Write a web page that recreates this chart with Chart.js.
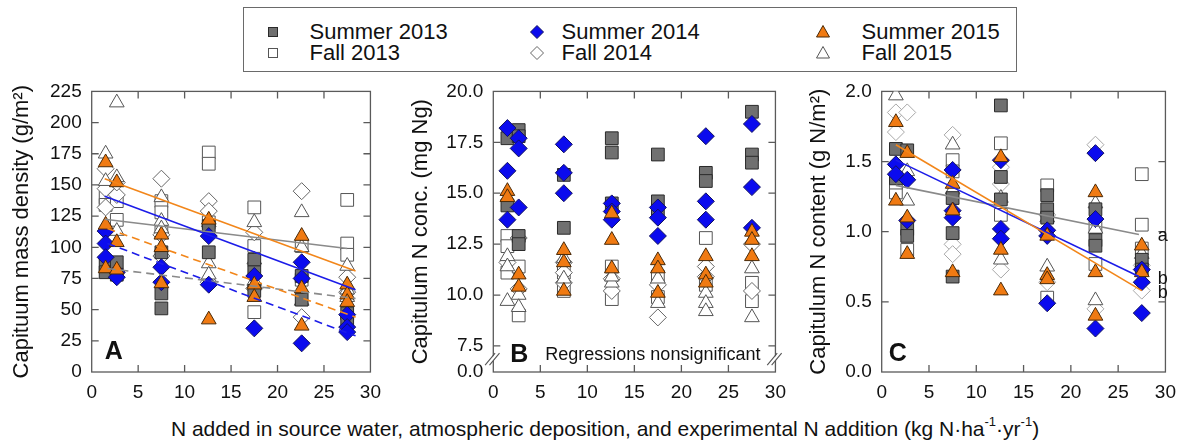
<!DOCTYPE html>
<html><head><meta charset="utf-8">
<script src="https://cdn.jsdelivr.net/npm/chart.js@4.4.1/dist/chart.umd.min.js"></script>
<style>
html,body{margin:0;padding:0;background:#fff;width:1185px;height:443px;overflow:hidden;font-family:"Liberation Sans",Arial,sans-serif;color:#111;}
canvas.cv{position:absolute;}
#legend{position:absolute;left:243px;top:7px;width:772px;height:63px;border:1.5px solid #6a6a6a;}
.lt{position:absolute;font-size:22px;line-height:22px;white-space:nowrap;color:#111;}
.ls{position:absolute;}
#xtitle{position:absolute;left:105px;width:1000px;top:417px;text-align:center;font-size:21px;white-space:nowrap;}
#xtitle sup{font-size:13px;vertical-align:top;position:relative;top:-3px;}
</style></head><body>
<div id="legend"></div>
<div id="xtitle">N added in source water, atmospheric deposition, and experimental N addition (kg N·ha<sup>-1</sup>·yr<sup>-1</sup>)</div>
<script>
// ---------- shared ----------
const xTicks = [0, 5, 10, 15, 20, 25, 30];
const seriesKeys = ['S13', 'F13', 'S14', 'F14', 'S15', 'F15'];
const seriesLabels = ['Summer 2013', 'Fall 2013', 'Summer 2014', 'Fall 2014', 'Summer 2015', 'Fall 2015'];

// ---------- Panel A: capitulum mass density (g/m2), [x, y] ----------
const massTicks = [0, 25, 50, 75, 100, 125, 150, 175, 200, 225];
const massS13 = [[1.5,86],[1.5,80],[2.7,88],[2.7,78],[7.5,96],[7.5,63],[7.5,51],[12.6,117],[12.6,96],[17.5,90],[17.5,80],[17.5,65],[22.6,58],[22.6,77],[27.5,47],[27.5,40]];
const massF13 = [[1.5,140],[1.5,134],[2.7,137],[2.7,122],[7.5,137],[7.5,128],[7.5,112],[12.6,176],[12.6,167],[12.6,120],[17.5,132],[17.5,101],[17.5,48],[22.6,101],[22.6,74],[27.5,138],[27.5,103],[27.5,94]];
const massS14 = [[1.5,113],[1.5,103],[1.5,92],[2.7,80],[2.7,76],[7.5,84],[7.5,72],[12.6,109],[12.6,70],[17.5,77],[17.5,35],[22.6,88],[22.6,75],[22.6,23],[27.5,46],[27.5,36],[27.5,32]];
const massF14 = [[1.5,163],[1.5,147],[1.5,132],[2.7,142],[2.7,152],[7.5,155],[7.5,110],[7.5,93],[12.6,137],[12.6,129],[12.6,72],[17.5,112],[17.5,67],[22.6,145],[22.6,44],[27.5,76],[27.5,64]];
const massS15 = [[1.5,168],[1.5,118],[1.5,83],[2.7,152],[2.7,104],[2.7,82],[7.5,110],[7.5,100],[7.5,71],[12.6,122],[12.6,42],[17.5,70],[17.5,60],[22.6,109],[22.6,67],[22.6,37],[27.5,70],[27.5,62],[27.5,56]];
const massF15 = [[2.7,216],[1.5,175],[1.5,153],[2.7,156],[2.7,113],[7.5,140],[7.5,121],[7.5,115],[12.6,120],[12.6,87],[12.6,78],[17.5,120],[17.5,90],[17.5,73],[22.6,128],[22.6,100],[22.6,57],[27.5,85],[27.5,66],[27.5,60]];
// regressions (fall = solid, summer = dashed)
const massRegF13 = [[1.4,122.5],[27.5,99]];
const massRegF14 = [[1.4,141],[28.4,66]];
const massRegF15 = [[1.4,155],[28.4,81]];
const massRegS13 = [[1.7,83],[28.4,59]];
const massRegS14 = [[1.7,103],[28.4,29]];
const massRegS15 = [[1.7,115],[28.4,44]];

// ---------- Panel B: capitulum N concentration (mg Ng) ----------
const concTicks = [6.22, 7.5, 10, 12.5, 15, 17.5, 20];
const concBreak = 6.85;
const concS13 = [[1.5,17.7],[2.7,18.1],[2.7,17.8],[1.5,14.4],[2.7,12.9],[2.7,12.5],[7.5,15.9],[7.5,13.3],[12.6,17.7],[12.6,17.0],[12.6,14.5],[17.5,16.9],[17.5,14.6],[17.5,14.1],[22.6,16.0],[22.6,15.6],[27.5,19.0],[27.5,16.9],[27.5,16.5]];
const concF13 = [[1.5,12.9],[1.5,12.4],[1.5,11.1],[2.7,11.4],[2.7,9.0],[7.5,11.1],[7.5,10.2],[12.6,11.4],[12.6,9.8],[17.5,10.9],[17.5,9.9],[22.6,12.8],[22.6,10.5],[27.5,10.6],[27.5,9.7]];
const concS14 = [[1.5,18.2],[2.7,17.7],[2.7,17.2],[1.5,16.1],[2.7,14.3],[1.5,13.7],[7.5,17.4],[7.5,16.0],[7.5,15.0],[12.6,14.5],[12.6,14.1],[12.6,13.7],[17.5,14.3],[17.5,13.8],[17.5,12.9],[22.6,17.8],[22.6,14.6],[22.6,13.7],[27.5,18.4],[27.5,15.3],[27.5,13.3]];
const concF14 = [[2.7,12.8],[1.5,11.6],[2.7,10.3],[7.5,11.6],[7.5,11.1],[7.5,10.6],[12.6,10.8],[12.6,10.2],[17.5,8.9],[17.5,10.5],[22.6,11.4],[22.6,10.9],[27.5,12.5],[27.5,10.2]];
const concS15 = [[1.5,15.1],[1.5,14.8],[2.7,11.0],[2.7,10.4],[7.5,12.2],[7.5,11.6],[7.5,10.2],[12.6,14.0],[12.6,12.7],[12.6,11.3],[17.5,11.7],[17.5,11.3],[17.5,10.1],[22.6,11.9],[22.6,11.0],[22.6,10.6],[27.5,13.1],[27.5,12.7],[27.5,11.9]];
const concF15 = [[1.5,11.9],[1.5,11.4],[1.5,9.7],[2.7,10.0],[2.7,9.4],[7.5,11.8],[7.5,10.8],[12.6,10.6],[12.6,10.9],[17.5,10.8],[17.5,9.6],[22.6,10.1],[22.6,9.6],[22.6,9.2],[27.5,11.3],[27.5,8.9]];

// ---------- Panel C: capitulum N content (g N/m2) ----------
const contTicks = [0, 0.5, 1.0, 1.5, 2.0];
const contS13 = [[1.5,1.59],[2.7,1.58],[1.5,1.38],[2.7,1.02],[2.7,0.97],[7.5,1.24],[7.5,0.99],[7.5,0.68],[12.6,1.90],[12.6,1.39],[12.6,1.23],[17.5,1.26],[17.5,1.16],[17.5,1.10],[22.6,1.16],[22.6,0.94],[22.6,0.90],[27.5,0.80],[27.5,0.73]];
const contF13 = [[1.5,1.28],[1.5,1.35],[2.7,0.87],[7.5,1.51],[7.5,1.43],[12.6,1.63],[12.6,1.12],[17.5,1.33],[17.5,0.53],[22.6,0.77],[22.6,1.03],[27.5,1.41],[27.5,1.05],[27.5,0.88]];
const contS14 = [[1.5,1.48],[1.5,1.41],[2.7,1.37],[2.7,1.08],[7.5,1.44],[7.5,1.15],[7.5,1.10],[12.6,1.51],[12.6,1.02],[12.6,0.95],[17.5,1.01],[17.5,0.97],[17.5,0.49],[22.6,1.56],[22.6,1.09],[22.6,0.31],[27.5,0.73],[27.5,0.64],[27.5,0.42]];
const contF14 = [[1.5,1.85],[2.7,1.85],[1.5,1.71],[7.5,1.69],[7.5,0.91],[7.5,0.84],[12.6,1.46],[12.6,1.34],[12.6,0.73],[17.5,0.64],[17.5,1.12],[22.6,1.62],[22.6,0.45],[27.5,0.76],[27.5,0.58]];
const contS15 = [[1.5,1.78],[2.7,1.56],[1.5,1.22],[2.7,1.10],[2.7,0.84],[7.5,1.34],[7.5,1.15],[7.5,0.71],[12.6,1.53],[12.6,0.87],[12.6,0.58],[17.5,0.97],[17.5,0.69],[17.5,0.66],[22.6,1.28],[22.6,0.71],[22.6,0.40],[27.5,0.90],[27.5,0.71]];
const contF15 = [[1.5,1.97],[2.7,1.43],[2.7,1.22],[7.5,1.62],[7.5,1.30],[12.6,1.24],[12.6,0.80],[17.5,1.10],[17.5,0.75],[22.6,1.20],[22.6,1.02],[22.6,0.51],[27.5,0.84],[27.5,0.66]];
const contReg2013 = [[1.5,1.33],[27.2,0.98]];
const contReg2014 = [[1.5,1.51],[27.2,0.68]];
const contReg2015 = [[1.5,1.62],[27.5,0.58]];
const contRegLabels = ['a', 'b', 'b'];

// ---------- styles ----------
const FONT = '"Liberation Sans", Arial, sans-serif';
const seriesStyle = {
  S13: {shape: 'rect', r: 9, fill: '#707070', edge: '#2a2a2a', order: 3},
  F13: {shape: 'rect', r: 9, fill: '#ffffff', edge: '#555555', order: 6},
  S14: {shape: 'rectRot', r: 8.5, fill: '#0b0bee', edge: '#121260', order: 2},
  F14: {shape: 'rectRot', r: 8.5, fill: '#ffffff', edge: '#666666', order: 5},
  S15: {shape: 'triangle', r: 8.5, fill: '#f07a12', edge: '#4a2a08', order: 1},
  F15: {shape: 'triangle', r: 8.5, fill: '#ffffff', edge: '#555555', order: 4}
};
const yearColor = {'2013': '#8a8a8a', '2014': '#1c1ce8', '2015': '#f2861a'};

function pts(arr) { return arr.map(p => ({x: p[0], y: p[1]})); }

function pointSet(key, arr, edgeOverride) {
  const s = seriesStyle[key];
  return {
    label: seriesLabels[seriesKeys.indexOf(key)], data: pts(arr), showLine: false,
    pointStyle: s.shape, pointRadius: s.r, pointHoverRadius: s.r,
    backgroundColor: s.fill, borderColor: edgeOverride || s.edge, pointBorderWidth: 1,
    order: s.order
  };
}
function lineSet(arr, year, dashed) {
  return {
    data: pts(arr), showLine: true, pointRadius: 0, pointHoverRadius: 0,
    borderColor: yearColor[year], borderWidth: 1.6, borderDash: dashed ? [8, 5] : [],
    fill: false, order: 0
  };
}

const framePlugin = {
  id: 'frame',
  beforeDatasetsDraw(chart, args, o) {
    const {ctx, chartArea: a, scales: {x, y}} = chart;
    ctx.save();
    ctx.strokeStyle = '#5a5a5a';
    ctx.lineWidth = 1.3;
    ctx.strokeRect(a.left, a.top, a.right - a.left, a.bottom - a.top);
    const L = 7;
    ctx.beginPath();
    xTicks.forEach(v => {
      if (v <= x.min || v >= x.max) return;
      const px = x.getPixelForValue(v);
      ctx.moveTo(px, a.bottom); ctx.lineTo(px, a.bottom - L);
      ctx.moveTo(px, a.top); ctx.lineTo(px, a.top + L);
    });
    o.yTicks.forEach(v => {
      if (v <= y.min || v >= y.max) return;
      const py = y.getPixelForValue(v);
      ctx.moveTo(a.left, py); ctx.lineTo(a.left + L, py);
      ctx.moveTo(a.right, py); ctx.lineTo(a.right - L, py);
    });
    ctx.stroke();
    ctx.restore();
  },
  afterDatasetsDraw(chart, args, o) {
    const {ctx, chartArea: a, scales: {x, y}} = chart;
    ctx.save();
    ctx.fillStyle = '#111';
    ctx.font = 'bold 25px ' + FONT;
    ctx.textAlign = 'left';
    ctx.textBaseline = 'middle';
    ctx.fillText(o.letter, a.left + o.letterDX, a.bottom - o.letterDY);
    if (o.note) {
      ctx.font = '18px ' + FONT;
      ctx.textAlign = 'right';
      ctx.fillText(o.note, a.right - 15, a.bottom - 17);
    }
    if (o.breakAt !== undefined) {
      const py = y.getPixelForValue(o.breakAt);
      [a.left, a.right].forEach(px => {
        ctx.fillStyle = '#fff';
        ctx.beginPath();
        ctx.moveTo(px - 6 - 2, py + 5); ctx.lineTo(px + 4 - 2, py - 5);
        ctx.lineTo(px + 4 + 2, py - 5); ctx.lineTo(px - 6 + 2, py + 5);
        ctx.closePath(); ctx.fill();
        ctx.strokeStyle = '#555'; ctx.lineWidth = 1.1;
        ctx.beginPath();
        [-2.2, 2.2].forEach(d => { ctx.moveTo(px - 6 + d, py + 6); ctx.lineTo(px + 4 + d, py - 6); });
        ctx.stroke();
      });
    }
    if (o.lineLabels) {
      ctx.fillStyle = '#111';
      ctx.font = '18px ' + FONT;
      ctx.textAlign = 'left';
      ctx.textBaseline = 'middle';
      o.lineLabels.forEach(l => {
        const end = l.line[l.line.length - 1];
        ctx.fillText(l.text, x.getPixelForValue(27.5) + 16, y.getPixelForValue(end[1]) + 2);
      });
    }
    ctx.restore();
  }
};

function makePanel(p) {
  const cv = document.createElement('canvas');
  cv.className = 'cv';
  cv.style.left = p.left + 'px';
  cv.style.top = '70px';
  cv.width = p.width; cv.height = 338;
  cv.style.width = p.width + 'px'; cv.style.height = '338px';
  document.body.appendChild(cv);
  new Chart(cv, {
    type: 'scatter',
    data: {datasets: p.datasets},
    options: {
      responsive: false, animation: false, events: [],
      layout: {padding: {left: 0, right: p.padRight, top: 15, bottom: 0}, autoPadding: false},
      plugins: {legend: {display: false}, tooltip: {enabled: false}, frame: p.frame},
      scales: {
        x: {
          type: 'linear', min: 0, max: 30,
          afterBuildTicks: s => { s.ticks = xTicks.map(v => ({value: v})); },
          afterFit: s => { s.height = 36; },
          grid: {display: false, drawTicks: false}, border: {display: false},
          ticks: {font: {size: 19, family: FONT}, color: '#111', padding: 9, maxRotation: 0, autoSkip: false}
        },
        y: {
          type: 'linear', min: p.yMin, max: p.yMax,
          afterBuildTicks: s => { s.ticks = p.yTicks.map(v => ({value: v})); },
          afterFit: s => { s.width = p.yAxisW; },
          grid: {display: false, drawTicks: false}, border: {display: false},
          ticks: {font: {size: 19, family: FONT}, color: '#111', padding: 10, autoSkip: false, callback: p.fmt},
          title: {display: true, text: p.yTitle, color: '#111', font: {size: 22, family: FONT}, padding: {top: p.titlePad, bottom: 0}}
        }
      }
    },
    plugins: [framePlugin]
  });
}

// Panel A
makePanel({
  left: 0, width: 390, padRight: 13, yAxisW: 91.7, titlePad: 9,
  yMin: 0, yMax: 225, yTicks: massTicks, fmt: v => String(v),
  yTitle: 'Capituum mass density (g/m²)',
  frame: {yTicks: massTicks, letter: 'A', letterDX: 13, letterDY: 20},
  datasets: [
    lineSet(massRegF15, '2015', false), lineSet(massRegF14, '2014', false), lineSet(massRegF13, '2013', false),
    lineSet(massRegS15, '2015', true), lineSet(massRegS14, '2014', true), lineSet(massRegS13, '2013', true),
    pointSet('S13', massS13), pointSet('F13', massF13), pointSet('S14', massS14),
    pointSet('F14', massF14), pointSet('S15', massS15), pointSet('F15', massF15)
  ]
});

// Panel B
makePanel({
  left: 400, width: 395, padRight: 13.3, yAxisW: 93.3, titlePad: 8,
  yMin: 6.22, yMax: 20, yTicks: concTicks, fmt: v => (v < 7 ? '0.0' : v.toFixed(1)),
  yTitle: 'Capitulum N conc. (mg Ng)',
  frame: {yTicks: concTicks.slice(1), letter: 'B', letterDX: 17, letterDY: 17,
          note: 'Regressions nonsignificant', breakAt: concBreak},
  datasets: [
    pointSet('S13', concS13), pointSet('F13', concF13), pointSet('S14', concS14),
    pointSet('F14', concF14), pointSet('S15', concS15), pointSet('F15', concF15)
  ]
});

// Panel C
makePanel({
  left: 790, width: 395, padRight: 11.7, yAxisW: 91.7, titlePad: 16,
  yMin: 0, yMax: 2, yTicks: contTicks, fmt: v => v.toFixed(1),
  yTitle: 'Capitulum N content (g N/m²)',
  frame: {yTicks: contTicks, letter: 'C', letterDX: 7, letterDY: 18,
          lineLabels: [{text: contRegLabels[0], line: contReg2013}, {text: contRegLabels[1], line: contReg2014}, {text: contRegLabels[2], line: contReg2015}]},
  datasets: [
    lineSet(contReg2015, '2015', false), lineSet(contReg2014, '2014', false), lineSet(contReg2013, '2013', false),
    pointSet('S13', contS13), pointSet('F13', contF13), pointSet('S14', contS14),
    pointSet('F14', contF14, '#a8a8a8'), pointSet('S15', contS15), pointSet('F15', contF15)
  ]
});

// ---------- legend (HTML) ----------
(function () {
  const lg = document.getElementById('legend');
  const colX = [273 - 244.5, 537 - 244.5, 823 - 244.5];
  const txtX = [310 - 244.5, 562 - 244.5, 862 - 244.5];
  const rowY = [32 - 8.5, 53 - 8.5];
  const order = [['S13', 'F13'], ['S14', 'F14'], ['S15', 'F15']];
  order.forEach((pair, c) => pair.forEach((key, r) => {
    const s = seriesStyle[key];
    let shape;
    if (s.shape === 'rect') shape = '<rect x="-4.5" y="-4.5" width="9" height="9"/>';
    else if (s.shape === 'rectRot') shape = '<polygon points="0,-6.5 6.5,0 0,6.5 -6.5,0"/>';
    else shape = '<polygon points="0,-6.5 6.5,5 -6.5,5"/>';
    const svg = document.createElementNS('http://www.w3.org/2000/svg', 'svg');
    svg.setAttribute('class', 'ls');
    svg.setAttribute('width', '16'); svg.setAttribute('height', '16');
    svg.setAttribute('viewBox', '-8 -8 16 16');
    svg.style.left = (colX[c] - 8) + 'px';
    svg.style.top = (rowY[r] - 8) + 'px';
    svg.innerHTML = '<g fill="' + s.fill + '" stroke="' + s.edge + '" stroke-width="1">' + shape + '</g>';
    lg.appendChild(svg);
    const t = document.createElement('div');
    t.className = 'lt';
    t.textContent = seriesLabels[seriesKeys.indexOf(key)];
    t.style.left = txtX[c] + 'px';
    t.style.top = (rowY[r] - 11) + 'px';
    lg.appendChild(t);
  }));
})();
</script>
</body></html>
